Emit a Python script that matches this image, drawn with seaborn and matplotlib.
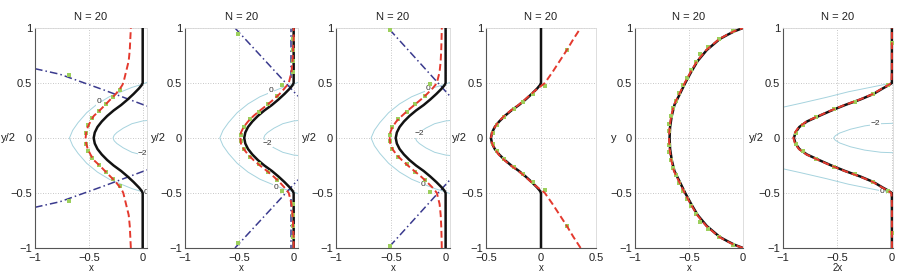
import numpy as np
import pandas as pd
import matplotlib
matplotlib.use("Agg")
import matplotlib.pyplot as plt
import seaborn as sns

sns.set_theme(style="white")
plt.rcParams['font.family'] = ['Liberation Sans', 'DejaVu Sans']

# ---------------- data ----------------
TITLE = "N = 20"
Y_BUMP = [-1.0, -0.9, -0.8, -0.7, -0.6, -0.5, -0.48, -0.45, -0.4, -0.35, -0.3, -0.25, -0.2, -0.15, -0.1, -0.05,
          0.0, 0.05, 0.1, 0.15, 0.2, 0.25, 0.3, 0.35, 0.4, 0.45, 0.48, 0.5, 0.6, 0.7, 0.8, 0.9, 1.0]

BLACK_A = [0, 0, 0, 0, 0, 0, -0.01, -0.035, -0.085, -0.14, -0.20, -0.27, -0.33, -0.38, -0.42, -0.445,
           -0.455, -0.445, -0.42, -0.38, -0.33, -0.27, -0.20, -0.14, -0.085, -0.035, -0.01, 0, 0, 0, 0, 0, 0]

RED_1 = [-0.11, -0.115, -0.12, -0.13, -0.155, -0.18, -0.19, -0.21, -0.25, -0.30, -0.35, -0.40, -0.455, -0.485, -0.51, -0.525,
         -0.53, -0.525, -0.51, -0.485, -0.455, -0.40, -0.35, -0.30, -0.25, -0.21, -0.19, -0.18, -0.155, -0.13, -0.12, -0.115, -0.11]
RED_2 = [0.0, 0.0, -0.005, -0.01, -0.02, -0.045, -0.06, -0.085, -0.13, -0.185, -0.245, -0.31, -0.37, -0.42, -0.46, -0.485,
         -0.49, -0.485, -0.46, -0.42, -0.37, -0.31, -0.245, -0.185, -0.13, -0.085, -0.06, -0.045, -0.02, -0.01, -0.005, 0.0, 0.0]
RED_3 = [-0.035, -0.037, -0.04, -0.045, -0.055, -0.08, -0.095, -0.12, -0.17, -0.225, -0.285, -0.345, -0.40, -0.45, -0.485, -0.505,
         -0.51, -0.505, -0.485, -0.45, -0.40, -0.345, -0.285, -0.225, -0.17, -0.12, -0.095, -0.08, -0.055, -0.045, -0.04, -0.037, -0.035]
RED_4 = [0.36, 0.295, 0.235, 0.17, 0.105, 0.035, 0.01, -0.03, -0.09, -0.145, -0.205, -0.275, -0.335, -0.385, -0.42, -0.445,
         -0.455, -0.445, -0.42, -0.385, -0.335, -0.275, -0.205, -0.145, -0.09, -0.03, 0.01, 0.035, 0.105, 0.17, 0.235, 0.295, 0.36]
BLACK_6 = [0, 0, 0, 0, 0, 0, -0.03, -0.085, -0.17, -0.29, -0.43, -0.555, -0.67, -0.78, -0.85, -0.885,
           -0.90, -0.885, -0.85, -0.78, -0.67, -0.555, -0.43, -0.29, -0.17, -0.085, -0.03, 0, 0, 0, 0, 0, 0]
RED_6 = [0.0, 0.0, 0.0, 0.0, 0.0, -0.005, -0.035, -0.09, -0.175, -0.295, -0.435, -0.56, -0.675, -0.785, -0.855, -0.89,
         -0.905, -0.89, -0.855, -0.785, -0.675, -0.56, -0.435, -0.295, -0.175, -0.09, -0.035, -0.005, 0.0, 0.0, 0.0, 0.0, 0.0]

Y_P5 = [-1.0, -0.97, -0.94, -0.9, -0.8, -0.7, -0.6, -0.5, -0.4, -0.3, -0.2, -0.1, 0.0,
        0.1, 0.2, 0.3, 0.4, 0.5, 0.6, 0.7, 0.8, 0.9, 0.94, 0.97, 1.0]
BLACK_5 = [0.0, -0.08, -0.14, -0.215, -0.335, -0.42, -0.48, -0.535, -0.585, -0.635, -0.66, -0.675, -0.68,
           -0.675, -0.66, -0.635, -0.585, -0.535, -0.48, -0.42, -0.335, -0.215, -0.14, -0.08, 0.0]
RED_5 = [0.0, -0.085, -0.145, -0.22, -0.34, -0.425, -0.485, -0.54, -0.59, -0.64, -0.665, -0.68, -0.685,
         -0.68, -0.665, -0.64, -0.59, -0.54, -0.485, -0.425, -0.34, -0.22, -0.145, -0.085, 0.0]

GREEN1_X = [-0.68, -0.215, -0.275, -0.34, -0.405, -0.467, -0.505, -0.525, -0.525, -0.505, -0.467, -0.405, -0.34, -0.275, -0.215, -0.68]
GREEN1_Y = [0.57, 0.44, 0.375, 0.31, 0.245, 0.18, 0.115, 0.05, -0.05, -0.115, -0.18, -0.245, -0.31, -0.375, -0.44, -0.57]
GREEN2_X = [-0.005, -0.005, -0.005, -0.005, -0.51, -0.11, -0.15, -0.235, -0.32, -0.40, -0.46, -0.488,
            -0.488, -0.46, -0.40, -0.32, -0.235, -0.15, -0.11, -0.51, -0.005, -0.005, -0.005, -0.005]
GREEN2_Y = [0.9, 0.8, 0.7, 0.6, 0.95, 0.48, 0.38, 0.31, 0.24, 0.17, 0.10, 0.03,
            -0.03, -0.10, -0.17, -0.24, -0.31, -0.38, -0.48, -0.95, -0.6, -0.7, -0.8, -0.9]
GREEN3_X = [-0.51, -0.14, -0.19, -0.275, -0.355, -0.43, -0.485, -0.508,
            -0.508, -0.485, -0.43, -0.355, -0.275, -0.19, -0.14, -0.51]
GREEN3_Y = [0.98, 0.49, 0.38, 0.31, 0.24, 0.17, 0.10, 0.03, -0.03, -0.10, -0.17, -0.24, -0.31, -0.38, -0.49, -0.98]
GREEN4_X = [0.235, 0.04, -0.075, -0.16, -0.25, -0.34, -0.40, -0.44, -0.44, -0.40, -0.34, -0.25, -0.16, -0.075, 0.04, 0.235]
GREEN4_Y = [0.8, 0.47, 0.40, 0.33, 0.26, 0.19, 0.12, 0.05, -0.05, -0.12, -0.19, -0.26, -0.33, -0.40, -0.47, -0.8]
GREEN5_X = [-0.09, -0.225, -0.32, -0.395, -0.435, -0.48, -0.52, -0.555, -0.59, -0.625, -0.65, -0.67, -0.682, -0.688,
            -0.688, -0.682, -0.67, -0.65, -0.625, -0.59, -0.555, -0.52, -0.48, -0.435, -0.395, -0.32, -0.225, -0.09]
GREEN5_Y = [0.97, 0.9, 0.83, 0.76, 0.69, 0.62, 0.55, 0.48, 0.41, 0.34, 0.27, 0.2, 0.13, 0.06,
            -0.06, -0.13, -0.2, -0.27, -0.34, -0.41, -0.48, -0.55, -0.62, -0.69, -0.76, -0.83, -0.9, -0.97]
GREEN6_X = [0.0, -0.04, -0.17, -0.34, -0.53, -0.70, -0.82, -0.885, -0.885, -0.82, -0.70, -0.53, -0.34, -0.17, -0.04, 0.0]
GREEN6_Y = [0.86, 0.48, 0.40, 0.33, 0.26, 0.19, 0.12, 0.05, -0.05, -0.12, -0.19, -0.26, -0.33, -0.40, -0.48, -0.86]

BLUE1_X = [-1.0, -0.77, -0.37, 0.04]
BLUE1_Y = [0.63, 0.58, 0.44, 0.29]
BLUE2_X = [-0.54, 0.04]
BLUE2_Y = [1.0, 0.38]
BLUE2V_X = [-0.025, -0.025]
BLUE2V_Y = [0.55, 1.0]
BLUE3_X = [-0.51, 0.04]
BLUE3_Y = [0.985, 0.38]

CONT0_X = [0.05, 0.0, -0.1, -0.2, -0.31, -0.42, -0.52, -0.6, -0.65, -0.68, -0.65, -0.6, -0.52, -0.42, -0.31, -0.2, -0.1, 0.0, 0.05]
CONT0_Y = [0.51, 0.49, 0.46, 0.42, 0.375, 0.31, 0.23, 0.14, 0.07, 0.0, -0.07, -0.14, -0.23, -0.31, -0.375, -0.42, -0.46, -0.49, -0.51]
CONT2_X = [0.05, 0.0, -0.1, -0.18, -0.24, -0.265, -0.275, -0.265, -0.24, -0.18, -0.1, 0.0, 0.05]
CONT2_Y = [0.16, 0.155, 0.13, 0.09, 0.05, 0.025, 0.0, -0.025, -0.05, -0.09, -0.13, -0.155, -0.16]
CONT6A_X = [-1.0, -0.84, -0.6, -0.4, -0.2, 0.0, 0.05]
CONT6A_Y = [0.28, 0.315, 0.37, 0.42, 0.46, 0.5, 0.51]
CONT6B_X = [0.05, -0.1, -0.25, -0.38, -0.48, -0.52, -0.535, -0.52, -0.48, -0.38, -0.25, -0.1, 0.05]
CONT6B_Y = [0.135, 0.13, 0.11, 0.08, 0.045, 0.02, 0.0, -0.02, -0.045, -0.08, -0.11, -0.13, -0.135]

XLABELS = ["x", "x", "x", "x", "x", "2x"]
YLABELS = ["y/2", "y/2", "y/2", "y/2", "y", "y/2"]

# ---------------- style ----------------
C_BLACK = "#121212"
C_RED = "#e4392e"
C_BLUE = "#3a3a8e"
C_GREEN = "#9ccf5c"
C_CONT = "#a6d3de"
FS = 8

fig = plt.figure(figsize=(8.97, 2.72), dpi=100)
W, H = 897.0, 272.0
panels_px = [(35, 147, (-1, 0.04), [-1, -0.5, 0], ["\u22121", "\u22120.5", "0"]),
             (185, 298, (-1, 0.04), [-1, -0.5, 0], ["\u22121", "\u22120.5", "0"]),
             (336, 450, (-1, 0.04), [-1, -0.5, 0], ["\u22121", "\u22120.5", "0"]),
             (486, 596, (-0.5, 0.5), [-0.5, 0, 0.5], ["\u22120.5", "0", "0.5"]),
             (635, 743, (-1, 0.0), [-1, -0.5, 0], ["\u22121", "\u22120.5", "0"]),
             (783, 893, (-1, 0.01), [-1, -0.5, 0], ["\u22121", "\u22120.5", "0"])]
bottom_px, top_px = 248, 28
axes = []
for (l, r, xl, xt, xtl) in panels_px:
    ax = fig.add_axes([l / W, (H - bottom_px) / H, (r - l) / W, (bottom_px - top_px) / H])
    ax.set_xlim(*xl)
    ax.set_ylim(-1, 1)
    ax.set_xticks(xt)
    ax.set_xticklabels(xtl)
    ax.set_yticks([-1, -0.5, 0, 0.5, 1])
    ax.set_yticklabels(["\u22121", "\u22120.5", "0", "0.5", "1"])
    axes.append(ax)


def line(ax, xs, ys, color, lw, ls="-", dashes=None, z=2):
    df = pd.DataFrame({"x": xs, "y": ys})
    sns.lineplot(data=df, x="x", y="y", sort=False, estimator=None, ax=ax, color=color,
                 linewidth=lw, linestyle=ls, legend=False, zorder=z)
    if dashes is not None:
        ax.lines[-1].set_dashes(dashes)


def dots(ax, xs, ys):
    df = pd.DataFrame({"x": xs, "y": ys})
    sns.scatterplot(data=df, x="x", y="y", ax=ax, color=C_GREEN, marker="s", s=10,
                    linewidth=0, legend=False, zorder=4)


def clabel(ax, x, y, txt):
    ax.text(x, y, txt, fontsize=6, color="#333333", ha="center", va="center", zorder=3,
            bbox=dict(boxstyle="square,pad=0.05", fc="white", ec="none"), clip_on=True)


RED_DASH = (3.5, 1.8)
BLUE_DASH = (5, 2, 1, 2)

# panel 1
ax = axes[0]
line(ax, CONT0_X, CONT0_Y, C_CONT, 0.7, z=1)
line(ax, CONT2_X, CONT2_Y, C_CONT, 0.7, z=1)
clabel(ax, -0.41, 0.33, "0")
clabel(ax, 0.03, -0.5, "0")
clabel(ax, 0.0, -0.14, "\u22122")
line(ax, BLUE1_X, BLUE1_Y, C_BLUE, 1.1, dashes=BLUE_DASH)
line(ax, BLUE1_X, [-v for v in BLUE1_Y], C_BLUE, 1.1, dashes=BLUE_DASH)
line(ax, BLACK_A, Y_BUMP, C_BLACK, 1.8, z=3)
dots(ax, GREEN1_X, GREEN1_Y)
line(ax, RED_1, Y_BUMP, C_RED, 1.4, dashes=RED_DASH, z=5)

# panel 2
ax = axes[1]
line(ax, CONT0_X, CONT0_Y, C_CONT, 0.7, z=1)
line(ax, CONT2_X, CONT2_Y, C_CONT, 0.7, z=1)
clabel(ax, -0.21, 0.43, "0")
clabel(ax, -0.16, -0.45, "0")
clabel(ax, -0.24, -0.05, "\u22122")
line(ax, BLUE2_X, BLUE2_Y, C_BLUE, 1.1, dashes=BLUE_DASH)
line(ax, BLUE2_X, [-v for v in BLUE2_Y], C_BLUE, 1.1, dashes=BLUE_DASH)
line(ax, BLUE2V_X, BLUE2V_Y, C_BLUE, 1.1, dashes=BLUE_DASH)
line(ax, BLUE2V_X, [-v for v in BLUE2V_Y], C_BLUE, 1.1, dashes=BLUE_DASH)
line(ax, BLACK_A, Y_BUMP, C_BLACK, 1.8, z=3)
dots(ax, GREEN2_X, GREEN2_Y)
line(ax, RED_2, Y_BUMP, C_RED, 1.4, dashes=RED_DASH, z=5)

# panel 3
ax = axes[2]
line(ax, CONT0_X, CONT0_Y, C_CONT, 0.7, z=1)
line(ax, CONT2_X, CONT2_Y, C_CONT, 0.7, z=1)
clabel(ax, -0.16, 0.45, "0")
clabel(ax, -0.21, -0.42, "0")
clabel(ax, -0.24, 0.04, "\u22122")
line(ax, BLUE3_X, BLUE3_Y, C_BLUE, 1.1, dashes=BLUE_DASH)
line(ax, BLUE3_X, [-v for v in BLUE3_Y], C_BLUE, 1.1, dashes=BLUE_DASH)
line(ax, BLACK_A, Y_BUMP, C_BLACK, 1.8, z=3)
dots(ax, GREEN3_X, GREEN3_Y)
line(ax, RED_3, Y_BUMP, C_RED, 1.4, dashes=RED_DASH, z=5)

# panel 4
ax = axes[3]
line(ax, BLACK_A, Y_BUMP, C_BLACK, 1.8, z=3)
dots(ax, GREEN4_X, GREEN4_Y)
line(ax, RED_4, Y_BUMP, C_RED, 1.4, dashes=RED_DASH, z=5)

# panel 5
ax = axes[4]
line(ax, BLACK_5, Y_P5, C_BLACK, 1.8, z=3)
dots(ax, GREEN5_X, GREEN5_Y)
line(ax, RED_5, Y_P5, C_RED, 1.4, dashes=RED_DASH, z=5)

# panel 6
ax = axes[5]
line(ax, CONT6A_X, CONT6A_Y, C_CONT, 0.7, z=1)
line(ax, CONT6A_X, [-v for v in CONT6A_Y], C_CONT, 0.7, z=1)
line(ax, CONT6B_X, CONT6B_Y, C_CONT, 0.7, z=1)
clabel(ax, -0.15, 0.135, "\u22122")
clabel(ax, -0.09, -0.49, "0")
line(ax, BLACK_6, Y_BUMP, C_BLACK, 1.8, z=3)
dots(ax, GREEN6_X, GREEN6_Y)
line(ax, RED_6, Y_BUMP, C_RED, 1.4, dashes=RED_DASH, z=5)

for i, ax in enumerate(axes):
    ax.grid(True, linestyle=(0, (1, 2)), color="#b5b5b5", linewidth=0.6)
    ax.set_axisbelow(True)
    for s in ["top", "right"]:
        ax.spines[s].set_color("#d8d8d8")
        ax.spines[s].set_linewidth(0.6)
    for s in ["left", "bottom"]:
        ax.spines[s].set_color("#555555")
        ax.spines[s].set_linewidth(0.8)
    ax.tick_params(axis="both", direction="in", length=2, width=0.6, labelsize=FS,
                   colors="#555555", labelcolor="#222222", pad=2)
    ax.tick_params(axis="x", pad=3.5)
    ax.set_title(TITLE, fontsize=FS, pad=6, color="#222222")
    ax.set_xlabel(XLABELS[i], fontsize=FS - 1, labelpad=0, color="#222222")
    ax.set_ylabel(YLABELS[i], fontsize=FS, rotation=0, ha="right", va="center", color="#222222")
    ax.yaxis.set_label_coords(-0.17, 0.5)

fig.savefig("out.png", dpi=100)
